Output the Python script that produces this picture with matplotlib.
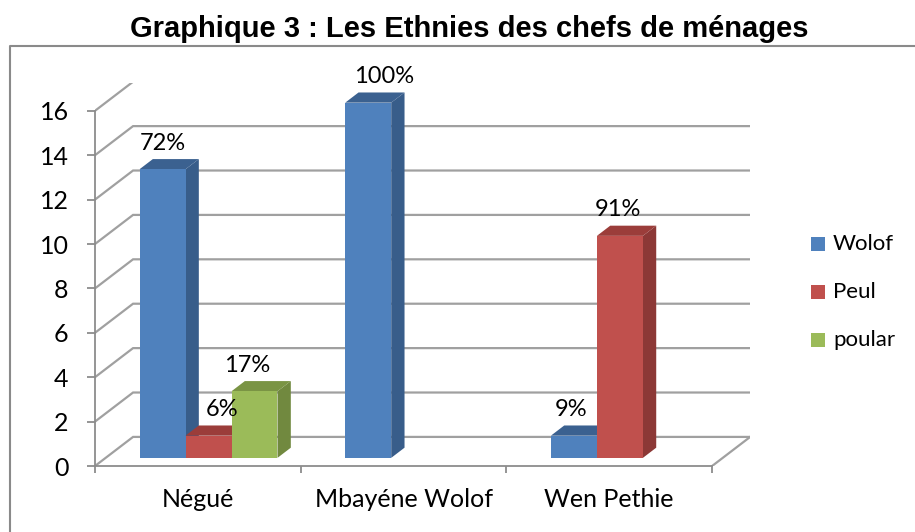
import matplotlib
matplotlib.use("Agg")
import matplotlib.pyplot as plt
from matplotlib.patches import Polygon, Rectangle
from matplotlib.lines import Line2D
import numpy as np

# data
categories = ["Négué", "Mbayéne Wolof", "Wen Pethie"]
series = ["Wolof", "Peul", "poular"]
wolof = [13, 16, 1]
peul = [1, 0, 10]
poular = [3, 0, 0]
labels = [["72%", "100%", "9%"], ["6%", "", "91%"], ["17%", "", ""]]
yticks = [0, 2, 4, 6, 8, 10, 12, 14, 16]

# colours (front, side, top)
colors = [("#4F81BD", "#385D8A", "#3B6190"),
          ("#C0504D", "#8C3836", "#9B3D3A"),
          ("#9BBB59", "#71893F", "#7A9444")]
grid_col = "#a0a0a0"

# fake 3D geometry (in data units)
DX, DY = 0.185, 1.31        # depth of the walls
D0, D1 = 0.28, 0.63         # bars sit between these depth fractions
W = 0.2236                  # bar width

plt.rcParams['font.family'] = ['Lato', 'DejaVu Sans']

fig = plt.figure(figsize=(9.15, 5.32), dpi=100)
ax = fig.add_axes([95 / 915, 66 / 532, 655 / 915, 383 / 532])
ax.set_xlim(0, 655 / 205.7)
ax.set_ylim(0, 383 / 22.2)
ax.patch.set_alpha(0)

# back wall gridlines + left wall diagonals
for v in yticks:
    ax.plot([0, DX, 3 + DX], [v, v + DY, v + DY], color=grid_col, lw=1.6,
            solid_joinstyle='miter', zorder=1)
# floor right edge
ax.plot([3, 3 + DX], [0, DY], color=grid_col, lw=1.6, zorder=1)

# bars
vals = [wolof, peul, poular]
for i in range(len(categories)):
    for j in range(len(series)):
        h = vals[j][i]
        if h <= 0:
            continue
        fc, sc, tc = colors[j]
        xc = i + 0.5 + (j - 1) * W + D0 * DX
        xl, xr = xc - W / 2, xc + W / 2
        y0 = D0 * DY
        bdx, bdy = (D1 - D0) * DX, (D1 - D0) * DY
        ax.add_patch(Polygon([(xr, y0), (xr, y0 + h), (xr + bdx, y0 + h + bdy),
                              (xr + bdx, y0 + bdy)], closed=True, fc=sc, ec='none', zorder=3))
        ax.add_patch(Polygon([(xl, y0 + h), (xr, y0 + h), (xr + bdx, y0 + h + bdy),
                              (xl + bdx, y0 + h + bdy)], closed=True, fc=tc, ec='none', zorder=3))
        ax.bar(xc, h, W, bottom=y0, color=fc, zorder=3)

# data labels
label_dx = [[0, 16, -3], [14, 0, -2], [-7, 0, 0]]
for j in range(len(series)):
    for i in range(len(categories)):
        if not labels[j][i]:
            continue
        xc = i + 0.5 + (j - 1) * W + D0 * DX
        top = D0 * DY + vals[j][i]
        ax.annotate(labels[j][i], (xc, top), xytext=(label_dx[j][i], 26),
                    textcoords='offset pixels', ha='center', va='center',
                    fontsize=17, color='black', zorder=5)

# axes styling
for s in ['top', 'right']:
    ax.spines[s].set_visible(False)
for s in ['left', 'bottom']:
    ax.spines[s].set_color('#8c8c8c')
    ax.spines[s].set_linewidth(1.3)
ax.spines['left'].set_bounds(0, 16)
ax.spines['bottom'].set_bounds(0, 3)
ax.set_yticks(yticks)
ax.set_yticklabels([str(v) for v in yticks], fontsize=18)
ax.set_xticks([0, 1, 2, 3])
ax.set_xticklabels([])
ax.set_xticks([0.5, 1.5, 2.5], minor=True)
ax.set_xticklabels(categories, minor=True, fontsize=18)
ax.tick_params(axis='y', length=6, width=1.3, color='#8c8c8c', pad=13)
ax.tick_params(axis='x', which='major', length=5, width=1.3, color='#8c8c8c')
ax.tick_params(axis='x', which='minor', length=0, pad=16)

# legend
for k, name in enumerate(series):
    yc = 532 - (244 + 48 * k)
    fig.add_artist(Rectangle((811 / 915, (yc - 7) / 532), 14 / 915, 14 / 532,
                             transform=fig.transFigure, fc=colors[k][0], ec='none'))
    fig.text(833 / 915, yc / 532, name, fontsize=16, va='center', ha='left')

# frame (only top and left visible) and title
fig.add_artist(Line2D([9.5 / 915, 9.5 / 915, 1], [0, 1 - 46 / 532, 1 - 46 / 532],
                      transform=fig.transFigure, color='#8a8a8a', lw=1.5))
fig.text(469 / 915, 1 - 29 / 532, "Graphique 3 : Les Ethnies des chefs de ménages",
         fontsize=21, fontweight='bold', family='Liberation Sans', ha='center', va='center')

fig.savefig("out.png", dpi=100)
